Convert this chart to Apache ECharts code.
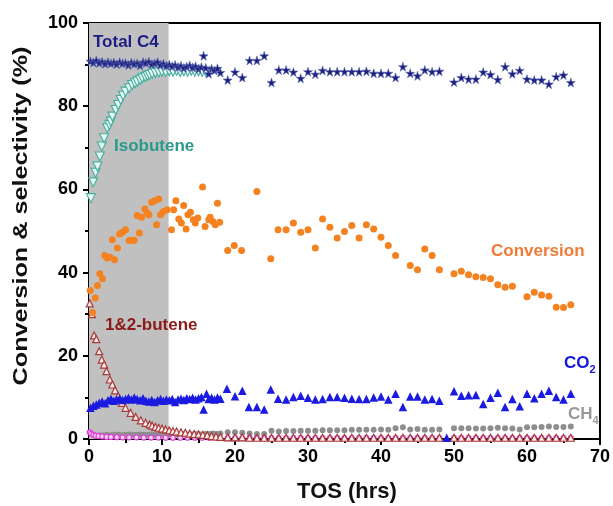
<!DOCTYPE html>
<html>
<head>
<meta charset="utf-8">
<script src="https://cdn.jsdelivr.net/npm/echarts@6/dist/echarts.min.js"></script>
<style>
html, body { margin: 0; padding: 0; background: #fff; }
#main { width: 613px; height: 506px; }
</style>
</head>
<body>
<div id="main"></div>
<script>
// TOS (hrs) and values (%)
var c4Tos = [0.2,0.6,1.0,1.4,1.8,2.2,2.6,3.0,3.4,3.8,
  4.2,4.6,5.0,5.4,5.8,6.2,6.6,7.0,7.4,7.8,
  8.2,8.6,9.0,9.4,9.8,10.2,10.6,11.0,11.4,11.8,
  12.2,12.6,13.0,13.4,13.8,14.2,14.6,15.0,15.4,15.7,
  16.0,16.4,16.8,17.2,17.6,18.0,19,20,21,22,
  23,24,25,26,27,28,29,30,31,32,
  33,34,35,36,37,38,39,40,41,42,
  43,44,45,46,47,48,50,51,52,53,
  54,55,56,57,58,59,60,61,62,63,
  64,65,66];
var c4Val = [90.8,90.5,91.0,90.4,90.7,90.2,90.6,90.3,90.5,90.1,
  90.6,90.3,90.4,89.9,90.5,90.2,90.3,89.8,90.6,90.4,
  90.7,90.1,90.3,90.6,89.9,90.2,89.7,90.0,89.6,89.9,
  89.4,89.7,89.2,89.5,89.8,89.3,89.6,89.0,89.4,92.1,
  89.2,87.8,89.0,88.6,89.1,88.1,86.3,88.2,86.9,91.0,
  91.0,92.1,85.7,88.7,88.7,88.2,86.7,88.3,87.7,88.6,
  88.3,88.3,88.3,88.3,88.3,88.4,87.9,87.9,87.9,86.9,
  89.5,87.9,87.3,88.7,88.3,88.4,85.8,86.9,86.5,86.5,
  88.2,87.6,86.4,89.5,87.8,88.6,86.5,86.3,86.3,85.3,
  87.1,87.5,85.7];

var isoTos = [0.26,0.57,0.9,1.16,1.48,1.75,2.07,2.5,2.8,3.0,
  3.2,3.66,4.0,4.35,4.66,5.0,5.5,5.9,6.3,6.6,
  7.0,7.3,7.7,8.0,8.3,8.65,9.1,9.56,10.0,10.5,
  11.0,11.5,12.0,12.5,13.0,13.5,14.0,14.5,15.0,15.5,16.0];
var isoVal = [57.9,61.7,64.0,65.5,67.9,70.3,72.3,74.7,75.5,76.3,
  77.5,79.1,80.3,81.5,82.5,83.5,84.3,85.1,85.5,85.9,
  86.3,86.7,87.0,87.3,87.5,87.8,88.0,88.1,88.3,88.2,
  88.4,88.3,88.5,88.2,88.4,88.3,88.5,88.3,88.4,88.2,88.3];

var convTos = [0.16,0.48,0.85,1.16,1.48,1.84,2.16,2.5,2.9,3.2,
  3.5,3.9,4.2,4.57,5.0,5.5,5.9,6.2,6.6,6.9,
  7.2,7.66,7.97,8.2,8.57,9.0,9.25,9.56,9.8,10.2,
  10.7,11.3,11.6,11.9,12.3,12.65,12.97,13.3,13.56,13.9,
  14.3,14.56,14.9,15.56,15.9,16.4,16.6,16.96,17.3,17.6,
  17.9,19.0,19.9,20.9,23.0,24.9,25.9,27.0,28.0,29,
  30,31,32,33,34,35,36,37,38,39,
  40,41,42,44,45,46,47,48,50,51,
  52,53,54,55,56,57,58,60,61,62,
  63,64,65,66];
var convVal = [35.7,30.4,33.9,36.9,39.7,38.5,44.1,43.5,43.7,47.9,
  43.1,45.9,49.3,49.7,50.3,47.7,47.7,47.8,53.7,49.5,
  53.3,55.3,54.3,53.9,56.9,57.3,51.5,57.7,53.9,54.7,
  55.1,50.3,55.1,57.3,52.9,51.9,56.1,50.5,53.9,54.5,
  52.7,51.9,53.1,60.6,51.1,52.7,53.3,52.3,51.5,56.7,
  52.1,45.3,46.5,45.3,59.5,43.3,50.3,50.3,51.9,49.7,
  50.3,45.9,52.9,50.9,48.3,49.9,51.3,48.3,51.5,50.5,
  48.5,46.5,44.1,41.7,40.7,45.7,44.1,40.7,39.7,40.3,
  39.5,39.0,38.8,38.5,37.1,36.5,36.7,34.2,35.3,34.6,
  34.3,31.7,31.6,32.3];

var co2Tos = [0.2,0.6,1.0,1.4,1.8,2.2,2.6,3.0,3.4,3.8,
  4.2,4.6,5.0,5.4,5.8,6.2,6.6,7.0,7.4,7.8,
  8.2,8.6,9.0,9.4,9.8,10.2,10.6,11.0,11.4,11.8,
  12.2,12.6,13.0,13.4,13.8,14.2,14.6,15.0,15.4,15.7,
  16.1,16.4,16.8,17.2,17.6,18.0,18.9,20,21,21.9,
  23,24,24.9,25.9,27,28,29,30,31,32,
  33,34,35,36,37,38,39,40,41,42,
  43,44,45,46,47,48,49,50,51,52,
  53,54,55,56,57,58,59,60,61,62,
  63,64,65,66];
var co2Val = [7.5,8.0,8.3,8.7,9.0,8.6,9.3,9.7,9.2,9.5,
  9.8,9.4,9.6,9.9,9.5,10.0,9.6,9.3,9.8,9.2,
  9.0,9.4,8.9,9.3,9.6,9.2,9.5,9.3,9.6,8.9,
  9.5,9.7,9.4,9.8,9.6,9.9,9.5,9.8,10.1,7.1,
  10.9,9.6,9.9,9.5,10.0,9.7,12.1,10.3,11.6,7.7,
  7.7,7.1,11.9,9.7,9.5,10.1,10.4,9.9,9.5,9.6,
  10.1,10.1,9.9,9.7,9.6,9.6,10.0,10.2,9.5,10.9,
  7.7,10.2,10.2,9.5,9.6,9.2,0.3,11.5,10.4,10.5,
  10.6,8.4,9.9,11.1,7.7,9.6,7.9,10.9,9.8,10.9,
  11.6,10.1,9.5,10.9];

var ch4Tos = [1.0,1.5,2.0,2.5,3.0,3.5,4.0,4.5,5.0,5.5,
  6.0,6.5,7.0,7.5,8.0,8.5,9.0,9.5,10.0,10.5,
  11.0,11.5,12.0,12.5,13.0,13.5,14.0,14.5,15.0,15.5,
  16.0,16.5,17.0,17.5,18.0,19,20,21,22,23,
  24,25,26,27,28,29,30,31,32,33,
  34,35,36,37,38,39,40,41,42,43,
  44,45,46,47,48,50,51,52,53,54,
  55,56,57,58,59,60,61,62,63,64,
  65,66];
var ch4Val = [0.8,0.9,0.9,1.0,0.9,1.0,1.0,0.9,1.0,1.1,
  1.0,1.0,1.1,1.0,1.0,1.1,1.0,1.1,1.1,1.0,
  1.1,1.1,1.0,1.1,1.2,1.1,1.1,1.2,1.2,1.1,
  1.2,1.2,1.3,1.2,1.3,1.6,1.6,1.5,1.3,1.2,
  1.2,2.0,1.8,1.9,1.9,2.0,2.0,2.0,2.1,2.1,
  2.1,2.1,2.2,2.2,2.2,2.2,2.3,2.2,2.6,2.8,
  2.3,2.4,2.2,2.2,2.3,2.6,2.6,2.6,2.5,2.5,
  2.6,2.7,2.6,2.5,2.3,2.8,2.8,2.9,3.0,2.9,
  2.9,3.0];

var butTos = [0.1,0.4,0.7,1.0,1.39,1.75,2.07,2.4,2.85,3.2,
  3.57,4.0,4.5,5.0,5.7,6.4,7.1,7.75,8.3,8.65,
  9.1,9.55,10.0,10.5,11.0,11.5,12.0,12.6,13.2,13.8,
  14.4,15.0,15.6,16.2,16.8,17.4,18.0,19,20,21,
  22,23,24,25,26,27,28,29,30,31,
  32,33,34,35,36,37,38,39,40,41,
  42,43,44,45,46,47,48,50,51,52,
  53,54,55,56,57,58,59,60,61,62,
  63,64,65,66];
var butVal = [32.6,30.0,24.9,24.0,21.1,19.1,17.9,16.3,14.3,13.1,
  11.7,10.3,8.7,7.5,6.3,5.3,4.5,3.9,3.5,3.2,
  2.9,2.7,2.5,2.3,2.1,1.9,1.8,1.6,1.5,1.3,
  1.2,1.1,1.0,0.9,0.7,0.6,0.5,0.4,0.4,0.4,
  0.3,0.3,0.3,0.3,0.3,0.3,0.3,0.3,0.3,0.3,
  0.3,0.3,0.3,0.3,0.3,0.3,0.3,0.3,0.3,0.3,
  0.3,0.3,0.3,0.3,0.3,0.3,0.3,0.3,0.3,0.3,
  0.3,0.3,0.3,0.3,0.3,0.3,0.3,0.3,0.3,0.3,
  0.3,0.3,0.3,0.3];

var magTos = [0.1,0.3,0.6,0.9,1.3,1.8,2.4,3.0,3.8,4.6,
  5.5,6.5,7.5,8.5,9.5,10.5,11.5,12.5,13.5,14.5,
  15.5,16.5,17.5,19,20,21,22,23,24,25,
  26,27,28,29,30,31,32,33,34,35,
  36,37,38,39,40,41,42,43,44,45,
  46,47,48,50,51,52,53,54,55,56,
  57,58,59,60,61,62,63,64,65,66];
var magVal = [1.6,1.3,1.0,0.8,0.7,0.6,0.5,0.5,0.45,0.4,
  0.4,0.4,0.35,0.35,0.35,0.3,0.3,0.3,0.3,0.3,
  0.3,0.3,0.3,0.2,0.2,0.2,0.2,0.2,0.2,0.2,
  0.2,0.2,0.2,0.2,0.2,0.2,0.2,0.2,0.2,0.2,
  0.2,0.2,0.2,0.2,0.2,0.2,0.2,0.2,0.2,0.2,
  0.2,0.2,0.2,0.2,0.2,0.2,0.2,0.2,0.2,0.2,
  0.2,0.2,0.2,0.2,0.2,0.2,0.2,0.2,0.2,0.2];

var shadeEnd = 10.9;

function pts(xs, ys) {
    return xs.map(function (x, i) { return [x, ys[i]]; });
}

var star = 'path://M50,0 L61,35 L98,35 L68,57 L79,91 L50,70 L21,91 L32,57 L2,35 L39,35 Z';
var font = 'Arial, "Liberation Sans", sans-serif';

var myChart = echarts.init(document.getElementById('main'));

var subRich = function (size) {
    return {
        a: {fontSize: size, fontWeight: 'bold', fontFamily: font, lineHeight: 20, verticalAlign: 'top'},
        b: {fontSize: 11, fontWeight: 'bold', fontFamily: font, lineHeight: 20, verticalAlign: 'bottom', padding: [12, 0, 0, 0]}
    };
};

var option = {
    animation: false,
    backgroundColor: '#fff',
    grid: {
        left: 89, right: 9, top: 23, bottom: 67,
        show: true, borderColor: '#000', borderWidth: 2
    },
    xAxis: {
        type: 'value', min: 0, max: 70, interval: 10,
        axisLine: {lineStyle: {color: '#000', width: 2}},
        axisTick: {inside: false, length: 6, lineStyle: {color: '#000', width: 2}},
        minorTick: {show: true, splitNumber: 2, length: 4, lineStyle: {color: '#000', width: 2}},
        splitLine: {show: false},
        axisLabel: {color: '#000', fontSize: 18, fontWeight: 'bold', fontFamily: font, margin: 9}
    },
    yAxis: {
        type: 'value', min: 0, max: 100, interval: 20,
        axisLine: {show: true, lineStyle: {color: '#000', width: 2}},
        axisTick: {show: true, inside: false, length: 6, lineStyle: {color: '#000', width: 2}},
        minorTick: {show: true, splitNumber: 2, length: 4, lineStyle: {color: '#000', width: 2}},
        splitLine: {show: false},
        axisLabel: {color: '#000', fontSize: 18, fontWeight: 'bold', fontFamily: font, margin: 11}
    },
    graphic: [
        {type: 'text', x: 21, y: 216, rotation: Math.PI / 2, scaleX: 1.2, scaleY: 1,
         style: {text: 'Conversion & selectivity (%)', font: 'bold 21px ' + font, fill: '#111',
                 textAlign: 'center', textVerticalAlign: 'middle'}},
        {type: 'text', x: 347, y: 492,
         style: {text: 'TOS (hrs)', font: 'bold 22px ' + font, fill: '#111',
                 textAlign: 'center', textVerticalAlign: 'middle'}},
        {type: 'text', x: 93, y: 42, z: 20,
         style: {text: 'Total C4', font: 'bold 17px ' + font, fill: '#1c1c84', textVerticalAlign: 'middle'}},
        {type: 'text', x: 114, y: 146, z: 20,
         style: {text: 'Isobutene', font: 'bold 17px ' + font, fill: '#2a9a8c', textVerticalAlign: 'middle'}},
        {type: 'text', x: 491, y: 251, z: 20,
         style: {text: 'Conversion', font: 'bold 17px ' + font, fill: '#f27a36', textVerticalAlign: 'middle'}},
        {type: 'text', x: 105, y: 325, z: 20,
         style: {text: '1&2-butene', font: 'bold 17px ' + font, fill: '#8b1a1a', textVerticalAlign: 'middle'}},
        {type: 'text', x: 564, y: 355, z: 20,
         style: {text: '{a|CO}{b|2}', fill: '#1515e0', fontWeight: 'bold', fontFamily: font, rich: subRich(17)}},
        {type: 'text', x: 568, y: 406, z: 20,
         style: {text: '{a|CH}{b|4}', fill: '#999', fontWeight: 'bold', fontFamily: font, rich: subRich(17)}}
    ],
    series: [
        {
            name: 'shade', type: 'scatter', data: [], z: 0, silent: true,
            markArea: {silent: true, itemStyle: {color: '#c0c0c0'},
                       data: [[{xAxis: 0}, {xAxis: shadeEnd}]]}
        },
        {
            name: 'CH4', type: 'scatter', z: 2, symbol: 'circle', symbolSize: 6,
            itemStyle: {color: '#8e8e8e', opacity: 1},
            data: pts(ch4Tos, ch4Val)
        },
        {
            name: 'other', type: 'scatter', z: 3, symbol: 'circle', symbolSize: 5,
            itemStyle: {color: '#fbd7f5', borderColor: '#e040d8', borderWidth: 1.2, opacity: 1},
            data: pts(magTos, magVal)
        },
        {
            name: '1&2-butene', type: 'scatter', z: 4, symbol: 'triangle', symbolSize: 7,
            itemStyle: {color: '#fbeaea', borderColor: '#a83a3a', borderWidth: 1.2, opacity: 1},
            data: pts(butTos, butVal)
        },
        {
            name: 'CO2', type: 'scatter', z: 5, symbol: 'triangle', symbolSize: 8.5,
            itemStyle: {color: '#1a1ae0', opacity: 1},
            data: pts(co2Tos, co2Val)
        },
        {
            name: 'Conversion', type: 'scatter', z: 6, symbol: 'circle', symbolSize: 7,
            itemStyle: {color: '#f58220', opacity: 1},
            data: pts(convTos, convVal)
        },
        {
            name: 'Isobutene', type: 'scatter', z: 7, symbol: 'triangle', symbolRotate: 180, symbolSize: 9,
            itemStyle: {color: '#e6f7f4', borderColor: '#45ad9f', borderWidth: 1.1, opacity: 1},
            data: pts(isoTos, isoVal)
        },
        {
            name: 'Total C4', type: 'scatter', z: 8, symbol: star, symbolSize: 9,
            itemStyle: {color: '#1e1e80', borderColor: '#5a6ab0', borderWidth: 0.6, opacity: 1},
            data: pts(c4Tos, c4Val)
        }
    ]
};
myChart.setOption(option);
</script>
</body>
</html>
